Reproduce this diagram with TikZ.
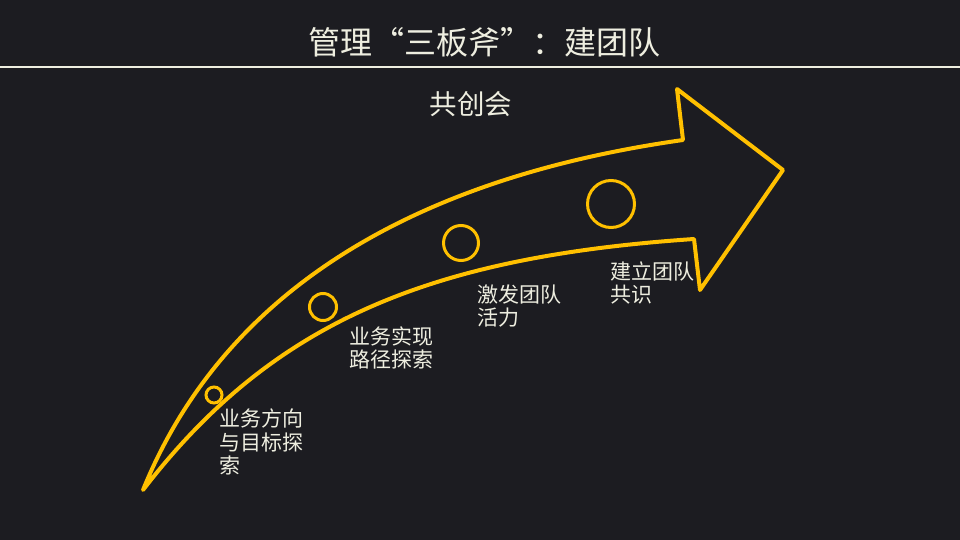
\documentclass[tikz,border=0pt]{standalone}
\usepackage{fontspec}
\setmainfont{Noto Sans CJK SC}
\newfontfamily\cjk{Noto Sans CJK SC}
\definecolor{bgc}{HTML}{1C1C21}
\definecolor{txtc}{HTML}{EEEEE0}
\definecolor{gold}{HTML}{FFC000}
\begin{document}
\begin{tikzpicture}[x=1pt,y=-1pt,
  lbl/.style={text=txtc,font=\cjk\fontsize{21}{23.5}\selectfont,align=left,inner sep=0pt,anchor=west},
  dot/.style={draw=gold,line width=3pt},
  arrowshape/.style={draw=gold,line width=4pt,line join=round}]
\useasboundingbox (0,0) rectangle (960,540);
\fill[bgc] (0,0) rectangle (960,540);
\node[text=txtc,font=\cjk\fontsize{32}{36}\selectfont,inner sep=0pt] (title) at (484,42) {管理“三板斧”：建团队};
\coordinate (rl) at (0,67);
\coordinate (rr) at (960,67);
\draw[txtc,line width=2pt] (rl) -- (rr);
\node[text=txtc,font=\cjk\fontsize{27.5}{30}\selectfont,inner sep=0pt] (sub) at (471,104) {共创会};
\coordinate (tail) at (143,490);
\coordinate (ju) at (683,140);
\coordinate (hu) at (677,89);
\coordinate (tip) at (783,170);
\coordinate (hl) at (700,290);
\coordinate (jl) at (694,239);
\draw[arrowshape] (tail) .. controls (220,300) and (400,180) .. (ju) -- (hu) -- (tip) -- (hl) -- (jl) .. controls (430,257) and (273,321) .. cycle;
\node[dot,circle,minimum size=16pt,inner sep=0pt] (c1) at (214,395) {};
\node[dot,circle,minimum size=27pt,inner sep=0pt] (c2) at (323,307) {};
\node[dot,circle,minimum size=35pt,inner sep=0pt] (c3) at (461,243) {};
\node[dot,circle,minimum size=47pt,inner sep=0pt] (c4) at (611,204) {};
\node[lbl] (t1) at (219,442) {业务方向\\与目标探\\索};
\node[lbl] (t2) at (349,348) {业务实现\\路径探索};
\node[lbl] (t3) at (477,306) {激发团队\\活力};
\node[lbl] (t4) at (610,283) {建立团队\\共识};
\end{tikzpicture}
\end{document}
